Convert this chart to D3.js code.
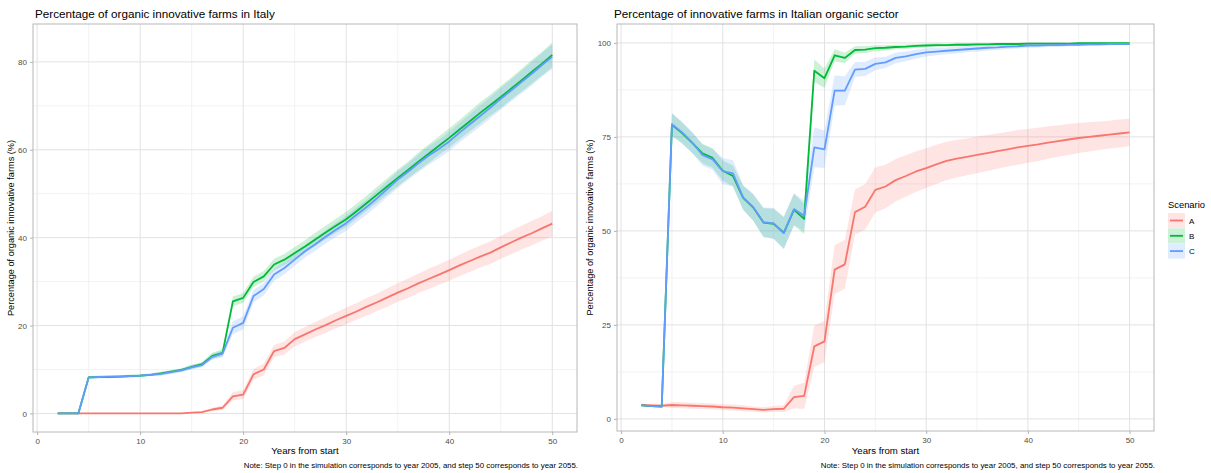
<!DOCTYPE html>
<html>
<head>
<meta charset="utf-8">
<script src="https://cdn.jsdelivr.net/npm/d3@7"></script>
<style>
  html, body { margin: 0; padding: 0; background: #ffffff; }
  svg { display: block; font-family: "Liberation Sans", Arial, sans-serif; }
</style>
</head>
<body>
<svg id="chart" width="1211" height="473"></svg>
<script>
// Simulation steps (years from start)
const steps = d3.range(2, 51);

const scenarios = ["A", "B", "C"];
const scenarioColors = ["#F8766D", "#00BA38", "#619CFF"];

// Panel 1: share of organic innovative farms in Italy (%), mean per step
const italyA = [0,0,0,0,0,0,0,0,0,0,0,0,0,0.2,0.3,0.9,1.3,3.9,4.3,8.9,10.0,14.2,14.9,16.9,18.0,19.1,20.1,21.2,22.2,23.2,24.3,25.3,26.4,27.5,28.5,29.6,30.6,31.6,32.6,33.7,34.7,35.7,36.6,37.8,38.9,40.0,41.0,42.1,43.2];
const italyB = [0,0,0,8.2,8.3,8.3,8.4,8.5,8.6,8.8,9.1,9.5,9.9,10.6,11.2,13.1,13.8,25.5,26.3,29.9,31.2,33.9,35.0,36.5,38.0,39.6,41.2,42.7,44.2,46.0,47.9,49.8,51.7,53.6,55.4,57.3,59.1,60.9,62.7,64.6,66.5,68.4,70.2,72.0,73.9,75.8,77.7,79.6,81.6];
const italyC = [0,0,0,8.2,8.3,8.4,8.4,8.5,8.6,8.8,9.0,9.4,9.8,10.5,11.0,12.9,13.6,19.5,20.6,26.7,28.3,31.6,33.1,35.0,36.9,38.5,40.2,41.8,43.3,45.2,47.0,49.0,51.1,53.2,55.0,56.9,58.7,60.2,61.9,63.9,65.8,67.7,69.6,71.6,73.5,75.4,77.3,79.3,81.2];
// half-width of the confidence band per step
const italyBandA = [0,0,0,0,0,0,0,0,0,0,0,0,0,0.1,0.2,0.4,0.5,0.9,1.0,1.2,1.3,1.4,1.5,1.6,1.7,1.7,1.8,1.8,1.9,1.9,2.0,2.0,2.1,2.1,2.2,2.2,2.3,2.3,2.4,2.4,2.5,2.5,2.6,2.6,2.7,2.7,2.8,2.8,2.9];
const italyBandB = [0,0,0,0.3,0.3,0.3,0.3,0.3,0.3,0.3,0.4,0.4,0.4,0.5,0.5,0.7,0.8,1.1,1.1,1.2,1.2,1.3,1.3,1.4,1.4,1.5,1.5,1.6,1.7,1.7,1.7,1.8,1.8,1.9,1.9,2.0,2.1,2.1,2.2,2.2,2.3,2.4,2.4,2.5,2.5,2.6,2.7,2.7,2.8];
const italyBandC = [0,0,0,0.3,0.3,0.3,0.3,0.3,0.3,0.3,0.4,0.4,0.4,0.5,0.5,0.7,0.8,1.5,1.5,1.4,1.4,1.4,1.4,1.4,1.4,1.5,1.5,1.6,1.7,1.7,1.7,1.8,1.8,1.9,1.9,2.0,2.1,2.1,2.2,2.2,2.3,2.4,2.4,2.5,2.5,2.6,2.7,2.7,2.8];

// Panel 2: share of innovative farms within the Italian organic sector (%)
const organicA = [3.7,3.6,3.5,3.7,3.6,3.5,3.4,3.3,3.1,3.0,2.8,2.6,2.4,2.6,2.7,5.8,6.1,19.3,20.6,39.7,41.1,55.0,56.4,60.9,61.8,63.5,64.6,65.8,66.7,67.7,68.6,69.2,69.7,70.2,70.7,71.2,71.7,72.2,72.6,73.0,73.5,73.9,74.3,74.7,75.0,75.3,75.6,75.9,76.2];
const organicB = [3.6,3.4,3.3,78.2,76.0,73.4,70.6,69.4,66.0,64.6,58.8,56.2,52.2,51.9,49.5,55.6,53.2,92.6,90.6,96.7,96.0,98.1,98.2,98.6,98.7,98.9,99.0,99.2,99.3,99.4,99.4,99.5,99.5,99.6,99.6,99.7,99.7,99.7,99.8,99.8,99.8,99.8,99.8,99.9,99.9,99.9,99.9,99.9,99.9];
const organicC = [3.6,3.4,3.3,78.4,76.2,73.5,70.2,69.0,65.9,65.3,58.9,56.3,52.3,52.0,49.4,55.8,54.0,72.2,71.7,87.3,87.3,92.9,93.1,94.4,94.8,96.0,96.4,97.0,97.5,97.7,97.9,98.1,98.3,98.5,98.7,98.8,99.0,99.1,99.3,99.3,99.4,99.4,99.5,99.5,99.6,99.6,99.7,99.7,99.7];
const organicBandA = [0.3,0.3,0.3,0.8,0.8,0.8,0.8,0.8,0.8,0.8,0.8,0.7,0.7,0.8,0.9,3.0,3.5,5.5,5.5,6.5,6.5,6.0,6.0,6.0,5.8,5.6,5.5,5.4,5.3,5.2,5.1,5.0,4.9,4.9,4.8,4.7,4.6,4.6,4.5,4.4,4.3,4.2,4.1,4.0,3.9,3.8,3.7,3.7,3.6];
const organicBandB = [0.2,0.2,0.2,3.0,2.8,2.7,2.6,2.6,2.7,2.8,3.2,3.5,3.8,4.0,4.2,4.2,4.0,3.0,2.6,1.6,1.4,1.0,0.9,0.8,0.7,0.6,0.6,0.5,0.5,0.5,0.4,0.4,0.4,0.4,0.3,0.3,0.3,0.3,0.3,0.3,0.3,0.3,0.2,0.2,0.2,0.2,0.2,0.2,0.2];
const organicBandC = [0.2,0.2,0.2,3.0,2.8,2.8,2.8,2.8,3.5,3.5,3.3,3.6,3.9,4.1,4.3,4.3,4.0,5.3,5.0,4.0,3.8,2.0,1.9,1.7,1.5,1.4,1.3,1.2,1.1,1.0,0.9,0.9,0.8,0.8,0.7,0.7,0.6,0.6,0.6,0.5,0.5,0.5,0.4,0.4,0.4,0.4,0.3,0.3,0.3];

// Axis ticks
const xTicks = [0, 10, 20, 30, 40, 50];
const xMinor = [5, 15, 25, 35, 45];
const italyYTicks = [0, 20, 40, 60, 80];
const italyYMinor = [10, 30, 50, 70];
const organicYTicks = [0, 25, 50, 75, 100];
const organicYMinor = [12.5, 37.5, 62.5, 87.5];

const titles = ["Percentage of organic innovative farms in Italy", "Percentage of innovative farms in Italian organic sector"];
const xTitle = "Years from start";
const yTitle = "Percentage of organic innovative farms (%)";
const note = "Note: Step 0 in the simulation corresponds to year 2005, and step 50 corresponds to year 2055.";
const legendTitle = "Scenario";

const svg = d3.select("#chart");

function buildSeries(means, bands) {
  return means.map((m, i) => ({
    key: scenarios[i],
    color: scenarioColors[i],
    points: steps.map((s, j) => ({ x: s, y: m[j], lo: m[j] - bands[i][j], hi: m[j] + bands[i][j] }))
  }));
}

function expand(lo, hi, mult) {
  const r = hi - lo;
  return [lo - r * mult, hi + r * mult];
}

function drawPanel(cfg) {
  const { left, right, top, bottom, series, yTicks, yMinor, title, id, titleX, yTitleX } = cfg;

  const allLo = d3.min(series, s => d3.min(s.points, p => p.lo));
  const allHi = d3.max(series, s => d3.max(s.points, p => p.hi));
  const x = d3.scaleLinear().domain(expand(2, 50, 0.05)).range([left, right]);
  const y = d3.scaleLinear().domain(expand(allLo, allHi, 0.05)).range([bottom, top]);

  const g = svg.append("g");

  g.append("rect").attr("x", left).attr("y", top)
    .attr("width", right - left).attr("height", bottom - top).attr("fill", "#ffffff");

  // minor grid
  g.append("g").selectAll("line").data(yMinor).join("line")
    .attr("x1", left).attr("x2", right)
    .attr("y1", d => y(d)).attr("y2", d => y(d))
    .attr("stroke", "#efefef").attr("stroke-width", 0.8);
  g.append("g").selectAll("line").data(xMinor).join("line")
    .attr("y1", top).attr("y2", bottom)
    .attr("x1", d => x(d)).attr("x2", d => x(d))
    .attr("stroke", "#efefef").attr("stroke-width", 0.8);
  // major grid
  g.append("g").selectAll("line").data(yTicks).join("line")
    .attr("x1", left).attr("x2", right)
    .attr("y1", d => y(d)).attr("y2", d => y(d))
    .attr("stroke", "#e2e2e2").attr("stroke-width", 1);
  g.append("g").selectAll("line").data(xTicks).join("line")
    .attr("y1", top).attr("y2", bottom)
    .attr("x1", d => x(d)).attr("x2", d => x(d))
    .attr("stroke", "#e2e2e2").attr("stroke-width", 1);

  const clipId = "clip-" + id;
  svg.append("defs").append("clipPath").attr("id", clipId)
    .append("rect").attr("x", left).attr("y", top)
    .attr("width", right - left).attr("height", bottom - top);

  const plot = g.append("g").attr("clip-path", `url(#${clipId})`);

  const area = d3.area().x(d => x(d.x)).y0(d => y(d.lo)).y1(d => y(d.hi));
  const line = d3.line().x(d => x(d.x)).y(d => y(d.y));

  plot.selectAll("path.band").data(series).join("path")
    .attr("class", "band")
    .attr("d", s => area(s.points))
    .attr("fill", s => s.color).attr("fill-opacity", 0.2);

  plot.selectAll("path.mean").data(series).join("path")
    .attr("class", "mean")
    .attr("d", s => line(s.points))
    .attr("fill", "none").attr("stroke", s => s.color)
    .attr("stroke-width", 1.8).attr("stroke-linejoin", "round");

  // panel border
  g.append("rect").attr("x", left).attr("y", top)
    .attr("width", right - left).attr("height", bottom - top)
    .attr("fill", "none").attr("stroke", "#b8b8b8").attr("stroke-width", 1);

  // axes
  const xAxis = d3.axisBottom(x).tickValues(xTicks).tickSize(3).tickPadding(3).tickFormat(d3.format("d"));
  const yAxis = d3.axisLeft(y).tickValues(yTicks).tickSize(3).tickPadding(3).tickFormat(d3.format("d"));

  const gx = g.append("g").attr("transform", `translate(0,${bottom})`).call(xAxis);
  const gy = g.append("g").attr("transform", `translate(${left},0)`).call(yAxis);
  [gx, gy].forEach(ax => {
    ax.select(".domain").remove();
    ax.selectAll(".tick line").attr("stroke", "#b3b3b3");
    ax.selectAll(".tick text").attr("fill", "#4d4d4d")
      .style("font-size", "8px").style("font-family", "'Liberation Sans', Arial, sans-serif");
  });

  // title
  g.append("text").attr("x", titleX).attr("y", 18)
    .attr("fill", "#000000").style("font-size", "11.7px").text(title);

  // axis titles
  g.append("text").attr("x", (left + right) / 2).attr("y", 454)
    .attr("text-anchor", "middle").attr("fill", "#000000")
    .style("font-size", "9.6px").text(xTitle);
  g.append("text")
    .attr("transform", `translate(${yTitleX},${(top + bottom) / 2}) rotate(-90)`)
    .attr("text-anchor", "middle").attr("fill", "#000000")
    .style("font-size", "9.2px").text(yTitle);

  // caption
  g.append("text").attr("x", right + 1).attr("y", 467.5)
    .attr("text-anchor", "end").attr("fill", "#000000")
    .style("font-size", "7.9px").text(note);
}

const italySeries = buildSeries([italyA, italyB, italyC], [italyBandA, italyBandB, italyBandC]);
const organicSeries = buildSeries([organicA, organicB, organicC], [organicBandA, organicBandB, organicBandC]);

drawPanel({ id: "italy", left: 33, right: 577, top: 24, bottom: 432, titleX: 35, yTitleX: 13.5,
  series: italySeries, yTicks: italyYTicks, yMinor: italyYMinor, title: titles[0] });
drawPanel({ id: "organic", left: 617, right: 1154, top: 24, bottom: 431, titleX: 614, yTitleX: 593,
  series: organicSeries, yTicks: organicYTicks, yMinor: organicYMinor, title: titles[1] });

// legend
const legend = svg.append("g").attr("transform", "translate(1168,0)");
legend.append("text").attr("x", 0).attr("y", 207.5)
  .attr("fill", "#000000").style("font-size", "9.4px").text(legendTitle);
const keys = legend.selectAll("g.key").data(scenarios).join("g")
  .attr("class", "key")
  .attr("transform", (d, i) => `translate(0,${213 + i * 15.3})`);
keys.append("rect").attr("width", 17).attr("height", 15)
  .attr("fill", (d, i) => scenarioColors[i]).attr("fill-opacity", 0.2);
keys.append("line").attr("x1", 2).attr("x2", 15).attr("y1", 7.5).attr("y2", 7.5)
  .attr("stroke", (d, i) => scenarioColors[i]).attr("stroke-width", 1.8);
keys.append("text").attr("x", 21).attr("y", 10.5)
  .attr("fill", "#000000").style("font-size", "8px").text(d => d);
</script>
</body>
</html>
